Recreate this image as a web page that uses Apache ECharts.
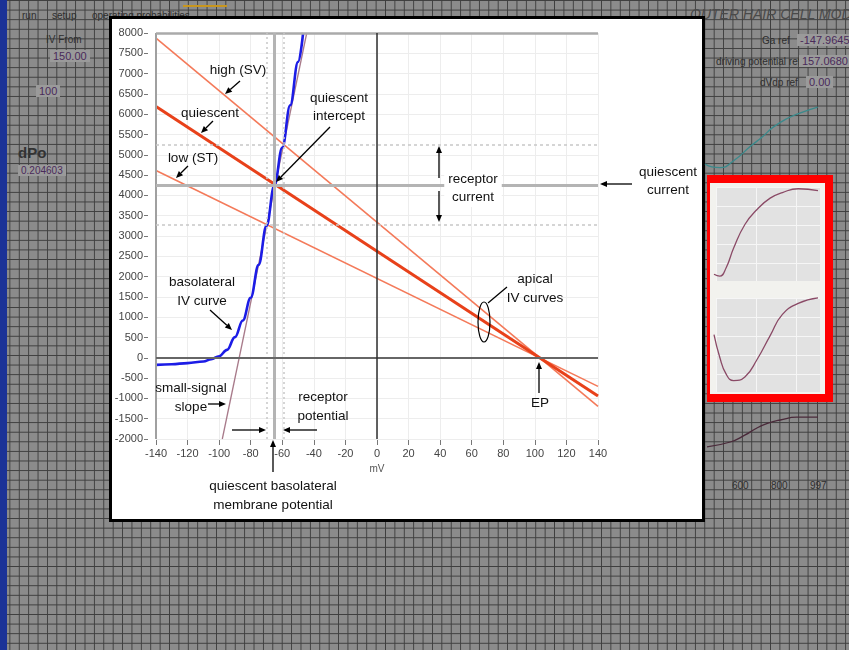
<!DOCTYPE html>
<html>
<head>
<meta charset="utf-8">
<script src="https://cdn.jsdelivr.net/npm/echarts@6/dist/echarts.min.js"></script>
<style>
  body { margin: 0; }
  #page {
    position: relative; width: 849px; height: 650px; overflow: hidden;
    background-color: #8b8b8b;
    background-image: linear-gradient(#3e3e3e 1px, transparent 1px), linear-gradient(90deg, #3e3e3e 1px, transparent 1px);
    background-size: 9.4px 9.6px, 9.4px 9.6px;
    font-family: "Liberation Sans", Arial, sans-serif;
  }
  .ui { position: absolute; color: #2e2e2e; font-size: 10px; white-space: nowrap; }
  .val { position: absolute; color: #4a2a5a; font-size: 11px; background: #9a9a9a; padding: 0 3px; }
  #strip { position: absolute; left: 0; top: 0; width: 7px; height: 650px; background: #1b3297; }
  #panel { position: absolute; left: 109px; top: 16px; width: 596px; height: 506px; box-sizing: border-box;
           border: 3px solid #000; background: #fff; }
  #redbox { position: absolute; left: 707px; top: 175px; width: 126px; height: 227px; box-sizing: border-box;
            border: 8px solid #ff0000; border-left-width: 3px; background: #f2f2ee; }
  .inset { position: absolute; background-color: #e2e2e2;
           background-image: linear-gradient(#f6f6f6 1px, transparent 1px), linear-gradient(90deg, #f6f6f6 1px, transparent 1px);
           background-size: 40px 19px, 40px 19px; }
  #chart { position: absolute; left: 0; top: 0; width: 849px; height: 650px; }
</style>
</head>
<body>
<div id="page">
  <div id="strip"></div>
  <div style="position:absolute;left:183px;top:5px;width:44px;height:2px;background:#c8961e"></div>
  <div class="ui" style="left:22px;top:10px">run</div>
  <div class="ui" style="left:52px;top:10px">setup</div>
  <div class="ui" style="left:92px;top:10px">operating probabilities</div>
  <div class="ui" style="left:46px;top:34px">IV From</div>
  <div class="val" style="left:50px;top:50px">150.00</div>
  <div class="val" style="left:36px;top:85px">100</div>
  <div class="ui" style="left:18px;top:144px;font-size:15px;font-weight:bold;color:#333">dPo</div>
  <div class="val" style="left:18px;top:165px;font-size:10px">0.204603</div>
  <div class="ui" style="left:690px;top:6px;font-size:14px;font-style:italic;color:#4a4a4a">OUTER HAIR CELL MODEL</div>
  <div class="ui" style="left:762px;top:35px">Ga ref</div>
  <div class="val" style="left:797px;top:34px">-147.9645</div>
  <div class="ui" style="left:716px;top:56px">driving potential ref</div>
  <div class="val" style="left:799px;top:55px">157.0680</div>
  <div class="ui" style="left:760px;top:77px">dVdp ref</div>
  <div class="val" style="left:806px;top:76px">0.00</div>
  <div class="ui" style="left:732px;top:480px">600</div>
  <div class="ui" style="left:771px;top:480px">800</div>
  <div class="ui" style="left:810px;top:480px">997</div>
  <div id="redbox">
    <div class="inset" style="left:6px;top:4px;width:104px;height:94px"></div>
    <div class="inset" style="left:6px;top:115px;width:104px;height:94px"></div>
  </div>
  <div id="panel"></div>
  <div id="chart"></div>
</div>
<script>
// axis ranges
const vMin = -140, vMax = 140, vStep = 20;
const iMin = -2000, iMax = 8000, iStep = 500;

// apical IV lines (current at -140 mV and +140 mV)
const apicalV = [-140, 140];
const apicalHigh = [7874, -1199];
const apicalQuiescent = [6190, -938];
const apicalLow = [4613, -704];

// basolateral IV curve
const basoV = [-140, -130, -120, -110, -105, -100, -95, -90, -85, -80, -75, -70, -65, -60, -55, -50, -46.8];
const basoI = [-175, -158, -130, -92, -35, 40, 195, 510, 920, 1480, 2290, 3250, 4250, 5180, 6220, 7290, 8000];

// small-signal slope (tangent at quiescent point)
const slopeV = [-98, -44.5];
const slopeI = [-2000, 8000];

// operating point and receptor range
const quiescentV = -65;
const quiescentI = 4260;
const receptorV = [-70, -59];
const receptorI = [3280, 5250];

// background inset curves (normalised 0..100)
const insetX = [0, 5.4, 11.7, 18.9, 29.7, 41.4, 54, 65.8, 81, 100];
const insetTop = [5, 3, 12, 33, 58, 74, 86, 92, 96, 94];
const insetBottom = [58, 34, 15, 8, 12, 31, 57, 80, 92, 98];
const tealX = [0, 6, 13, 26, 39, 50, 59, 71, 83, 98];
const tealY = [11, 7, 6, 17, 35, 49, 62, 74, 82, 90];
const lowerX = [0, 21, 34, 45, 55, 66, 81, 100];
const lowerY = [8, 20, 37, 55, 67, 75, 82, 82];

const FONT = '"Liberation Sans", Arial, sans-serif';
const pair = (xs, ys) => xs.map((x, i) => [x, ys[i]]);

const chart = echarts.init(document.getElementById('chart'));

function arrow(x1, y1, x2, y2) {
  const a = Math.atan2(y2 - y1, x2 - x1), L = 7, W = 3;
  const bx = x2 - L * Math.cos(a), by = y2 - L * Math.sin(a);
  return [
    { type: 'line', z: 100, shape: { x1, y1, x2: bx, y2: by }, style: { stroke: '#000', lineWidth: 1.3 } },
    { type: 'polygon', z: 100, shape: { points: [[x2, y2], [bx + W * Math.sin(a), by - W * Math.cos(a)], [bx - W * Math.sin(a), by + W * Math.cos(a)]] },
      style: { fill: '#000' } }
  ];
}
function label(text, x, y, extra) {
  return { type: 'text', z: 100, style: Object.assign({
    text, x, y, align: 'center', verticalAlign: 'middle', font: '13.5px ' + FONT, lineHeight: 18.5, fill: '#111'
  }, extra || {}) };
}

const annotations = [].concat(
  label('high (SV)', 238, 70), arrow(240, 81, 225, 94),
  label('quiescent', 210, 113), arrow(213, 121, 201, 133),
  label('low (ST)', 193, 158), arrow(188, 166, 176, 178),
  label('quiescent\nintercept', 339, 107.5), arrow(330, 127, 276, 182),
  label('receptor\ncurrent', 473, 188.5, { backgroundColor: '#fff', padding: [0, 4] }),
  arrow(439, 178, 439, 146), arrow(439, 191, 439, 222),
  label('quiescent\ncurrent', 668, 181.5), arrow(632, 184, 600, 184),
  label('apical\nIV curves', 535, 289),
  { type: 'ellipse', z: 100, shape: { cx: 484, cy: 322, rx: 6, ry: 20 }, style: { fill: 'none', stroke: '#000', lineWidth: 1.2 } },
  { type: 'line', z: 100, shape: { x1: 488, y1: 303, x2: 507, y2: 287 }, style: { stroke: '#000', lineWidth: 1.2 } },
  label('EP', 540, 403), arrow(539, 393, 539, 362),
  label('basolateral\nIV curve', 202, 292), arrow(210, 310, 232, 330),
  label('small-signal\nslope', 191, 398), arrow(208, 404, 226, 404),
  label('receptor\npotential', 323, 407), arrow(232, 430, 266, 430), arrow(317, 430, 283, 430),
  arrow(273, 472, 273, 440),
  label('quiescent basolateral\nmembrane potential', 273, 496)
);

const refLine = (key, value, color, width, type) =>
  ({ [key]: value, lineStyle: { color, width, type: type || 'solid' } });

const insetGrid = (left, top, width, height) => ({ left, top, width, height });
const hiddenAxis = (gridIndex) => ({ type: 'value', gridIndex, min: 0, max: 100, show: false });

chart.setOption({
  animation: false,
  grid: [
    { left: 156, top: 33, width: 442, height: 406 },
    insetGrid(714, 185, 104, 94),
    insetGrid(714, 296, 104, 92),
    insetGrid(705, 100, 115, 72),
    insetGrid(707, 410, 111, 40)
  ],
  xAxis: [{
    type: 'value', min: vMin, max: vMax, interval: vStep, offset: 1,
    axisLine: { show: false, onZero: false },
    axisTick: { show: true, length: 5, lineStyle: { color: '#777' } },
    axisLabel: { margin: 8, color: '#444', fontSize: 11, fontFamily: FONT, formatter: v => String(v) },
    splitLine: { lineStyle: { color: '#ededed' } },
    name: 'mV', nameLocation: 'middle', nameGap: 24,
    nameTextStyle: { color: '#555', fontSize: 10, fontFamily: FONT }
  }, hiddenAxis(1), hiddenAxis(2), hiddenAxis(3), hiddenAxis(4)],
  yAxis: [{
    type: 'value', min: iMin, max: iMax, interval: iStep, offset: 8,
    axisLine: { show: false, onZero: false },
    axisTick: { show: true, length: 4, lineStyle: { color: '#777' } },
    axisLabel: { margin: 5, color: '#444', fontSize: 11, fontFamily: FONT, formatter: v => String(v) },
    splitLine: { lineStyle: { color: '#ededed' } }
  }, hiddenAxis(1), hiddenAxis(2), hiddenAxis(3), hiddenAxis(4)],
  graphic: annotations,
  series: [
    {
      type: 'line', data: [], z: 1, silent: true,
      markLine: {
        silent: true, symbol: ['none', 'none'], label: { show: false }, animation: false,
        data: [
          refLine('xAxis', vMin, '#a0a0a0', 2),
          refLine('yAxis', iMax, '#aaaaaa', 2.5),
          refLine('xAxis', receptorV[0], '#c8c8c8', 1.5, [2, 3]),
          refLine('xAxis', receptorV[1], '#c8c8c8', 1.5, [2, 3]),
          refLine('yAxis', receptorI[0], '#c8c8c8', 1.5, [3, 3]),
          refLine('yAxis', receptorI[1], '#c8c8c8', 1.5, [3, 3]),
          refLine('yAxis', quiescentI, '#b4b4b4', 3),
          refLine('xAxis', quiescentV, '#b4b4b4', 3),
          refLine('yAxis', 0, '#666666', 2),
          refLine('xAxis', 0, '#2e2e2e', 1.5)
        ]
      }
    },
    { name: 'low (ST)', type: 'line', z: 2, showSymbol: false, data: pair(apicalV, apicalLow),
      lineStyle: { color: '#f47a5a', width: 1.6 } },
    { name: 'high (SV)', type: 'line', z: 2, showSymbol: false, data: pair(apicalV, apicalHigh),
      lineStyle: { color: '#f47a5a', width: 1.6 } },
    { name: 'quiescent', type: 'line', z: 3, showSymbol: false, data: pair(apicalV, apicalQuiescent),
      lineStyle: { color: '#e8411a', width: 3 } },
    { name: 'small-signal slope', type: 'line', z: 3, showSymbol: false, data: pair(slopeV, slopeI),
      lineStyle: { color: '#a87a8a', width: 1.3 } },
    { name: 'basolateral IV', type: 'line', z: 4, showSymbol: false, smooth: 0.4, smoothMonotone: 'x',
      data: pair(basoV, basoI), lineStyle: { color: '#1c1ce6', width: 2.6 } },
    { type: 'line', xAxisIndex: 1, yAxisIndex: 1, showSymbol: false, smooth: true, silent: true,
      data: pair(insetX, insetTop), lineStyle: { color: '#8a4a66', width: 1.3 } },
    { type: 'line', xAxisIndex: 2, yAxisIndex: 2, showSymbol: false, smooth: true, silent: true,
      data: pair(insetX, insetBottom), lineStyle: { color: '#8a4a66', width: 1.3 } },
    { type: 'line', xAxisIndex: 3, yAxisIndex: 3, showSymbol: false, smooth: true, silent: true,
      data: pair(tealX, tealY), lineStyle: { color: '#3a8a8c', width: 1.3 } },
    { type: 'line', xAxisIndex: 4, yAxisIndex: 4, showSymbol: false, smooth: true, silent: true,
      data: pair(lowerX, lowerY), lineStyle: { color: '#4a2a3a', width: 1.3 } }
  ]
});
</script>
</body>
</html>
